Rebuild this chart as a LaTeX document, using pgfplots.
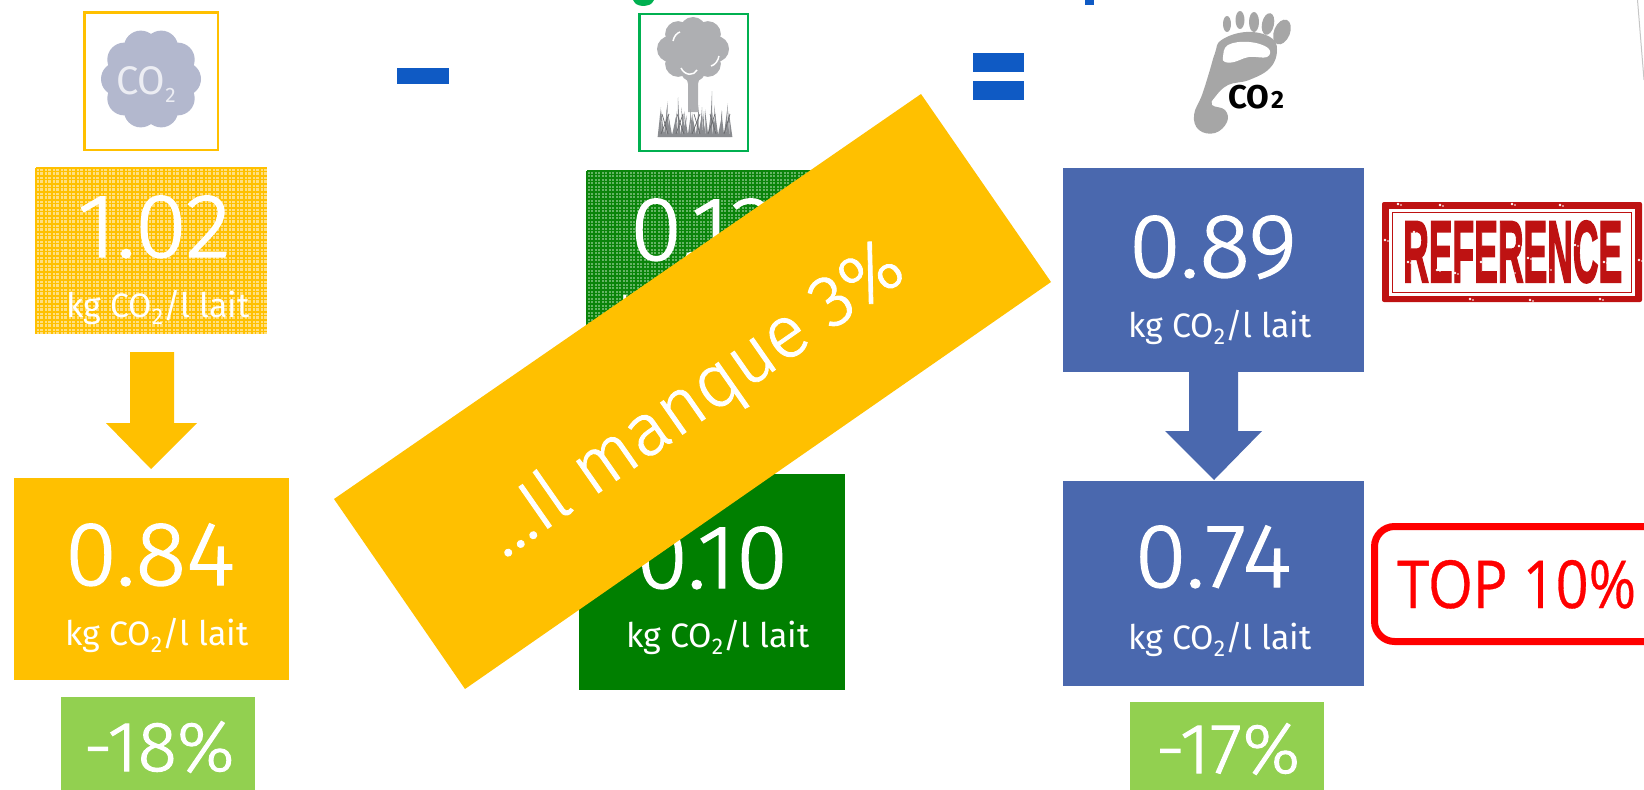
\documentclass[border=0pt]{standalone}
\usepackage{pgfplots}
\pgfplotsset{compat=1.18}
\usetikzlibrary{calc}
\usepackage{fontspec}
\setmainfont{Fira Sans}
\newfontfamily\numfont[FakeStretch=1.04,FakeBold=1.5]{Fira Sans Light}
\newfontfamily\pctfont[FakeStretch=1.03,FakeBold=1.5]{Fira Sans Light}
\newfontfamily\bannerfont[FakeBold=1.2]{Fira Sans Light}
\newfontfamily\topfont[FakeBold=0.5]{Open Sans}
\newfontfamily\stampfont[BoldFeatures={FakeBold=2.5}]{Liberation Sans}

\definecolor{amber}{HTML}{FFC000}
\definecolor{amberlight}{HTML}{FFDF80}
\definecolor{forest}{HTML}{0A840A}
\definecolor{forestlight}{HTML}{64B464}
\definecolor{framegreen}{HTML}{00B050}
\definecolor{deepgreen}{HTML}{007F00}
\definecolor{steel}{HTML}{4A68AE}
\definecolor{signblue}{HTML}{0F5AC4}
\definecolor{leaf}{HTML}{92D050}
\definecolor{cloudgrey}{HTML}{B3B8CE}
\definecolor{treegrey}{HTML}{AEAFB2}
\definecolor{grassgrey}{HTML}{8A8C90}
\definecolor{footgrey}{HTML}{A6A6A6}
\definecolor{stampred}{HTML}{BE1212}

% filled rectangle given by two corners, x-y in pixels from the top left
\newcommand{\panel}[5]{\addplot[fill=#1,draw=none] coordinates {(#2,#3)(#4,#3)(#4,#5)(#2,#5)} -- cycle;}
\newcommand{\bignum}[3]{\node[anchor=base,inner sep=0pt,text=white,font=\numfont\fontsize{91}{91}\selectfont] at (axis cs:#1,#2) {#3};}
\newcommand{\pct}[3]{\node[anchor=base,inner sep=0pt,text=white,font=\pctfont\fontsize{71}{71}\selectfont] at (axis cs:#1,#2) {#3};}
\newcommand{\perlitre}[2]{\node[anchor=base,inner sep=0pt,text=white,font=\fontsize{34}{34}\selectfont] at (axis cs:#1,#2) {kg CO\raisebox{-7bp}{\fontsize{23}{23}\selectfont 2}/l lait};}
% tree lobes, grass blades and stamp wear
\newcommand{\lobe}[2]{\fill[treegrey] ($(axis cs:693,49)+(#1:#2bp)$) circle (13bp);}
\newcommand{\blade}[3]{\fill[grassgrey] (axis cs:#1-1.4,137) -- (axis cs:#1+#2,137-#3) -- (axis cs:#1+1.4,137) -- cycle;}
\newcommand{\stalk}[2]{\draw[grassgrey!75!black,line width=0.7bp] (axis cs:#1,134) -- (axis cs:#1+#2,114);}
\newcommand{\speck}[2]{\fill[white] (axis cs:#1,#2) circle (1.3bp); \fill[white] (axis cs:#1+3,#2+1) circle (0.9bp);}

\begin{document}
\begin{tikzpicture}
\begin{axis}[name=board,scale only axis,width=1644bp,height=790bp,
  xmin=0,xmax=1644,ymin=0,ymax=790,y dir=reverse,hide axis]

% clipped heading above the frame, only descenders remain
\addplot[fill=framegreen,draw=none,smooth] coordinates {(632,-2)(636,4)(643,6)(651,4)(655,-2)} -- cycle;
\panel{signblue}{1085}{-1}{1094}{5}
\draw[gray!45,line width=1bp] (axis cs:1637.5,0) -- (axis cs:1644,80);

% ---- emissions column ----
\draw[amber,line width=2.6bp] (axis cs:84.5,12.5) rectangle (axis cs:218,150);
\fill[cloudgrey] (axis cs:151,79) circle (38bp);
\pgfplotsinvokeforeach{0,36,...,324}{
  \fill[cloudgrey] ($(axis cs:151,79)+(#1:33bp)$) circle (17bp);
}
\node[anchor=base west,inner sep=0pt,text=white!75!cloudgrey,font=\fontsize{40}{40}\selectfont] at (axis cs:116,94) {CO\raisebox{-8bp}{\fontsize{21}{21}\selectfont 2}};

\panel{amberlight}{36}{168}{267}{334}
\pgfplotsinvokeforeach{36,44,...,259}{
  \draw[amber,line width=1.5bp] (axis cs:#1,168) -- (axis cs:#1,334);
  \draw[amber,line width=0.7bp] (axis cs:#1+3,168) -- (axis cs:#1+3,334);
}
\pgfplotsinvokeforeach{168,176,...,327}{
  \draw[amber,line width=1.5bp] (axis cs:36,#1) -- (axis cs:267,#1);
  \draw[amber,line width=0.7bp] (axis cs:36,#1+3) -- (axis cs:267,#1+3);
}
\bignum{154}{257}{1.02}
\perlitre{158}{317}

\addplot[fill=amber,draw=none] coordinates {(130,352)(174,352)(174,423)(197,423)(151,469)(106,423)(130,423)} -- cycle;
\panel{amber}{14}{478}{289}{680}
\bignum{150}{585}{0.84}
\perlitre{157}{645}
\panel{leaf}{61}{697}{255}{790}
\pct{159}{771}{-18\%}

\panel{signblue}{397}{68}{449}{84}

% ---- sequestration column ----
\draw[framegreen,line width=2.2bp] (axis cs:639.5,14) rectangle (axis cs:748,151);
\fill[treegrey] (axis cs:693,50) circle (24bp);
\lobe{90}{19}\lobe{45}{21}\lobe{0}{23}\lobe{-45}{21}\lobe{-90}{20}\lobe{-135}{21}\lobe{180}{23}\lobe{135}{21}
\addplot[fill=treegrey,draw=none] coordinates {(685,72)(701,72)(698,84)(698,112)(688,112)(688,84)} -- cycle;
\draw[white,line width=1.5bp] (axis cs:673,41) .. controls (axis cs:674,36) and (axis cs:677,33) .. (axis cs:680,32);
\draw[white,line width=1.5bp] (axis cs:711,66) .. controls (axis cs:715,65) and (axis cs:718,61) .. (axis cs:719,56);
\draw[white,line width=1.5bp] (axis cs:681,68) .. controls (axis cs:685,76) and (axis cs:694,76) .. (axis cs:697,70);
\blade{659}{2}{30}\blade{661}{-1}{22}\blade{663}{-2}{27}\blade{665}{3}{36}\blade{667}{3}{18}\blade{669}{-3}{30}\blade{671}{-3}{24}\blade{673}{3}{20}
\blade{675}{2}{26}\blade{677}{-2}{20}\blade{679}{-1}{40}\blade{681}{3}{24}\blade{683}{4}{22}\blade{685}{-4}{30}\blade{687}{-3}{26}\blade{689}{2}{24}
\blade{691}{2}{20}\blade{693}{-3}{28}\blade{695}{-3}{24}\blade{697}{2}{32}\blade{699}{3}{22}\blade{701}{1}{30}\blade{703}{1}{26}\blade{705}{-3}{22}
\blade{707}{-2}{28}\blade{709}{2}{24}\blade{711}{1}{46}\blade{713}{3}{24}\blade{715}{-3}{25}\blade{717}{-3}{32}\blade{719}{3}{22}\blade{721}{1}{26}
\blade{723}{-2}{27}\blade{725}{3}{34}\blade{727}{2}{26}\blade{729}{-3}{20}\blade{731}{-2}{24}
\stalk{661}{8}\stalk{668}{-6}\stalk{676}{7}\stalk{684}{-7}\stalk{692}{8}\stalk{700}{-6}\stalk{708}{7}\stalk{716}{-6}\stalk{724}{6}

\panel{forestlight}{587}{171}{830}{335}
\pgfplotsinvokeforeach{587,594,...,823}{
  \draw[forest,line width=1.1bp] (axis cs:#1,171) -- (axis cs:#1,335);
  \draw[forest,line width=0.5bp] (axis cs:#1+3,171) -- (axis cs:#1+3,335);
}
\pgfplotsinvokeforeach{171,178,...,328}{
  \draw[forest,line width=1.1bp] (axis cs:587,#1) -- (axis cs:830,#1);
  \draw[forest,line width=0.5bp] (axis cs:587,#1+3) -- (axis cs:830,#1+3);
}
\bignum{703}{260}{0.13}
\perlitre{712}{320}

\panel{deepgreen}{579}{474}{845}{690}
\bignum{712}{588}{0.10}
\perlitre{718}{647}

\panel{signblue}{973}{53}{1024}{72}
\panel{signblue}{973}{81}{1024}{100}

% ---- footprint column ----
\fill[footgrey] plot[smooth cycle,tension=.7] coordinates {(axis cs:1221.5,40)(axis cs:1246,32)(axis cs:1270,37)(axis cs:1277,50)(axis cs:1270,68)(axis cs:1249,80)(axis cs:1228,85)(axis cs:1215,97)(axis cs:1212,105)(axis cs:1225,110)(axis cs:1227,122)(axis cs:1215,133)(axis cs:1199,130)(axis cs:1194,115)(axis cs:1202,95)(axis cs:1209,73)(axis cs:1215,53)};
\fill[white] plot[smooth cycle,tension=.7] coordinates {(axis cs:1223,57)(axis cs:1228,45)(axis cs:1249,42)(axis cs:1268,48)(axis cs:1267,57)(axis cs:1249,57)(axis cs:1234,62)(axis cs:1225,62)};
\fill[footgrey] (axis cs:1227,24) ellipse [x radius=4bp,y radius=8bp];
\fill[footgrey] (axis cs:1240,20) ellipse [x radius=4.5bp,y radius=9bp];
\fill[footgrey] (axis cs:1254,22) ellipse [x radius=5bp,y radius=10bp];
\fill[footgrey] (axis cs:1268,24) ellipse [x radius=6bp,y radius=11bp,rotate=-12];
\fill[footgrey] (axis cs:1282,32) ellipse [x radius=8bp,y radius=13bp,rotate=-22];
\node[anchor=base west,inner sep=0pt,font=\bfseries\fontsize{33}{33}\selectfont] at (axis cs:1228,108) {CO\hspace{2bp}{\fontsize{25}{25}\selectfont 2}};

\panel{steel}{1063}{168}{1364}{372}
\bignum{1213}{277}{0.89}
\perlitre{1220}{337}
\addplot[fill=steel,draw=none] coordinates {(1189,372)(1238,372)(1238,431)(1262,431)(1214,480)(1165,431)(1189,431)} -- cycle;
\panel{steel}{1063}{481}{1364}{686}
\bignum{1213}{587}{0.74}
\perlitre{1220}{649}
\panel{leaf}{1130}{702}{1324}{790}
\pct{1228}{773}{-17\%}

% ---- stamp ----
\fill[stampred,rounded corners=2bp] (axis cs:1382,202) rectangle (axis cs:1642,302);
\fill[white] (axis cs:1389,209) rectangle (axis cs:1635,296);
\draw[stampred,line width=1.8bp] (axis cs:1392.5,212.5) rectangle (axis cs:1631.5,292.5);
\node[anchor=south west,inner sep=0pt,text=stampred] at (axis cs:1403,283) {\resizebox{219bp}{61bp}{\stampfont\bfseries REFERENCE}};
\speck{1414}{232}\speck{1408}{262}\speck{1437}{270}\speck{1447}{240}\speck{1455}{273}\speck{1481}{262}\speck{1489}{240}\speck{1512}{272}
\speck{1519}{246}\speck{1528}{258}\speck{1548}{269}\speck{1575}{245}\speck{1581}{253}\speck{1604}{262}\speck{1612}{238}\speck{1398}{204}
\speck{1440}{205}\speck{1512}{204}\speck{1530}{300}\speck{1600}{299}\speck{1385}{240}\speck{1639}{260}\speck{1470}{299}\speck{1560}{205}

% ---- rank tag ----
\draw[red,line width=7bp,rounded corners=20bp] (axis cs:1665,526.5) -- (axis cs:1374.5,526.5) -- (axis cs:1374.5,641.5) -- (axis cs:1665,641.5);
\node[anchor=base west,inner sep=0pt,text=red] at (axis cs:1397,608) {\resizebox{239bp}{48bp}{\topfont TOP 10\%}};

% ---- banner laid across the middle column ----
\addplot[fill=amber,draw=none] coordinates {(921,94)(1051,282)(465,689)(334,499)} -- cycle;
\node[anchor=base,inner sep=0pt,text=white,rotate=34.9,font=\bannerfont\fontsize{74}{74}\selectfont] at (axis cs:706,418) {...Il manque 3\%};
\end{axis}
\pgfresetboundingbox
\path[use as bounding box] (board.south west) rectangle (board.north east);
\end{tikzpicture}
\end{document}
